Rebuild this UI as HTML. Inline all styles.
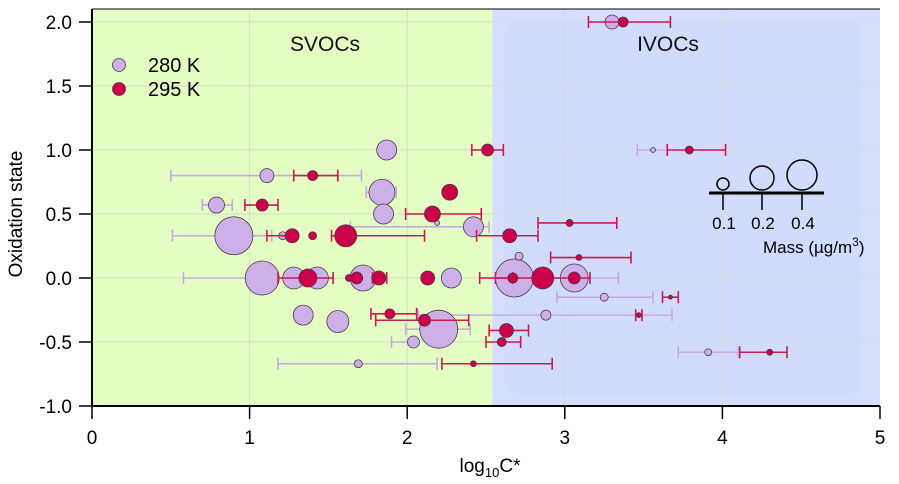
<!DOCTYPE html>
<html><head><meta charset="utf-8"><style>
body{margin:0;background:#fff;width:899px;height:484px;overflow:hidden}
svg{display:block;font-family:"Liberation Sans",Arial,sans-serif}
</style></head><body>
<svg id="chart" width="899" height="484" viewBox="0 0 899 484">
<defs><clipPath id="pc"><rect x="92" y="9" width="788" height="397"/></clipPath></defs>
<g id="bg"></g><g id="grid"></g><g id="marks" clip-path="url(#pc)"></g><g id="axes"></g><g id="legend"></g>
</svg>
<script>
const xTicks=[0,1,2,3,4,5];
const yTicks=[-1.0,-0.5,0.0,0.5,1.0,1.5,2.0];
// 280 K: x, y, mass-radius(px), xlo, xhi (null = no bar)
const s280X=[1.87,1.11,1.84,0.79,1.85,0.90,1.21,2.42,2.19,1.08,1.28,1.43,1.72,2.28,2.68,3.06,2.71,3.25,2.88,1.34,1.56,2.20,2.04,1.69,3.56,3.91,3.30];
const s280Y=[1.0,0.8,0.67,0.57,0.5,0.33,0.33,0.40,0.43,0,0,0,0,0,0,0,0.17,-0.15,-0.29,-0.29,-0.34,-0.40,-0.5,-0.67,1.0,-0.58,2.0];
const s280R=[10,7,13,8,10,19,4,10,2.5,17,11,11,13,10,19,14,4,4,5,10,11,19,6,4,2.5,3.5,7];
const s280Lo=[null,0.50,1.74,0.70,null,0.51,null,1.64,null,0.58,null,null,null,null,2.46,null,null,2.95,2.07,null,null,1.99,1.90,1.18,3.46,3.72,null];
const s280Hi=[null,1.71,1.93,0.89,null,1.14,null,2.52,null,1.53,null,null,null,null,3.34,null,null,3.56,3.68,null,null,2.40,2.04,2.19,3.65,4.10,null];
// 295 K
const s295X=[3.37,2.51,1.40,3.79,2.27,1.08,2.16,2.65,3.03,1.27,1.40,1.61,1.37,1.63,1.68,1.82,2.13,2.67,2.86,3.06,3.09,3.67,3.47,1.89,2.11,2.63,2.60,2.42,4.30];
const s295Y=[2.0,1.0,0.8,1.0,0.67,0.57,0.5,0.33,0.43,0.33,0.33,0.33,0,0,0,0,0,0,0,0,0.16,-0.15,-0.29,-0.28,-0.33,-0.41,-0.5,-0.67,-0.58];
const s295R=[5,6,5,4,8,6,8,7,3.5,7,4,11,9,3.5,6,7,7,5,11,6,3,2,2.5,5,6,7,4.5,3,3];
const s295Lo=[3.15,2.41,1.28,3.65,null,0.97,1.99,2.44,2.83,1.11,null,1.52,1.18,null,null,1.78,null,2.46,null,2.56,2.91,3.62,3.45,1.77,1.80,2.52,2.50,2.22,4.11];
const s295Hi=[3.67,2.61,1.56,4.02,null,1.18,2.47,2.83,3.33,1.27,null,2.11,1.53,null,null,1.87,null,2.67,null,3.16,3.42,3.72,3.49,2.06,2.39,2.77,2.72,2.92,4.41];

const X=v=>92+v*157.6, Y=v=>278-v*128;
const NS='http://www.w3.org/2000/svg';
function el(t,a,p,txt){const e=document.createElementNS(NS,t);for(const k in a)e.setAttribute(k,a[k]);if(txt!=null)e.textContent=txt;document.getElementById(p).appendChild(e);return e;}

let e;
e=el('rect',{x:92,y:9,width:X(2.54)-92,height:397,fill:'#e4fdc2'},'bg');


e=el('rect',{x:X(2.54),y:9,width:880-X(2.54),height:397,fill:'#d5defd'},'bg');


el('rect',{x:X(2.54)+12,y:22,width:880-X(2.54)-30,height:372,rx:14,fill:'#d1dcfd'},'bg');
e=el('text',{x:325,y:51,'font-size':21,'text-anchor':'middle',fill:'#111'},'bg','SVOCs');


e=el('text',{x:668,y:51,'font-size':21,'text-anchor':'middle',fill:'#111'},'bg','IVOCs');



xTicks.forEach(v=>{if(v>0&&v<5)el('line',{x1:X(v),x2:X(v),y1:9,y2:406,stroke:'#d6dccf','stroke-width':1},'grid');});
yTicks.forEach(v=>{if(v>-1&&v<2.1)el('line',{x1:92,x2:880,y1:Y(v),y2:Y(v),stroke:'#d6dccf','stroke-width':1},'grid');});

function series(xs,ys,rs,lo,hi,fill,bar,name){
  xs.forEach((x,i)=>{
    if(lo[i]!=null){
      const y=Y(ys[i]);
      e=el('line',{x1:X(lo[i]),x2:X(hi[i]),y1:y,y2:y,stroke:bar,'stroke-width':1.6},'marks');
      
      
      el('line',{x1:X(lo[i]),x2:X(lo[i]),y1:y-6,y2:y+6,stroke:bar,'stroke-width':1.6},'marks');
      el('line',{x1:X(hi[i]),x2:X(hi[i]),y1:y-6,y2:y+6,stroke:bar,'stroke-width':1.6},'marks');
    }
  });
  xs.forEach((x,i)=>{
    e=el('circle',{cx:X(x),cy:Y(ys[i]),r:rs[i],fill:fill,stroke:'#4a3a4a','stroke-width':0.8},'marks');
    
    
  });
}
series(s280X,s280Y,s280R,s280Lo,s280Hi,'#cdb0e8','#c7a8e6','280k');
series(s295X,s295Y,s295R,s295Lo,s295Hi,'#cc0048','#cc1a4e','295k');

el('line',{x1:92,x2:92,y1:9,y2:406,stroke:'#000','stroke-width':2},'axes');
el('line',{x1:92,x2:880,y1:406,y2:406,stroke:'#000','stroke-width':2},'axes');
el('line',{x1:92,x2:880,y1:9,y2:9,stroke:'#000','stroke-width':1},'axes');
xTicks.forEach(v=>{
  el('line',{x1:X(v),x2:X(v),y1:406,y2:419,stroke:'#000','stroke-width':1.5},'axes');
  e=el('text',{x:X(v),y:444,'font-size':19,'text-anchor':'middle'},'axes',String(v));
  
  
});
yTicks.forEach(v=>{
  el('line',{x1:79,x2:92,y1:Y(v),y2:Y(v),stroke:'#000','stroke-width':1.5},'axes');
  e=el('text',{x:72,y:Y(v)+7,'font-size':19,'text-anchor':'end'},'axes',v.toFixed(1));
  
  
});
e=el('text',{x:22,y:214,'font-size':19,'text-anchor':'middle',transform:'rotate(-90 22 214)'},'axes','Oxidation state');


e=el('text',{x:490,y:472,'font-size':19,'text-anchor':'middle'},'axes');


e.innerHTML='log<tspan font-size="13" dy="5">10</tspan><tspan dy="-5">C*</tspan>';

e=el('circle',{cx:119,cy:65,r:6.5,fill:'#cdb0e8',stroke:'#4a3a4a','stroke-width':0.8},'legend');


e=el('text',{x:148,y:72,'font-size':20},'legend','280 K');


e=el('circle',{cx:119,cy:89,r:6.5,fill:'#cc0048',stroke:'#4a3a4a','stroke-width':0.8},'legend');


e=el('text',{x:148,y:96,'font-size':20},'legend','295 K');



el('line',{x1:709,x2:824,y1:193,y2:193,stroke:'#000','stroke-width':3},'legend');
[[723,6,'0.1'],[762,12,'0.2'],[802,15,'0.4']].forEach(([cx,r,l])=>{
  e=el('circle',{cx:cx,cy:193-3-r,r:r,fill:'none',stroke:'#000','stroke-width':1.5},'legend');
  
  
  el('line',{x1:cx,x2:cx,y1:193,y2:210,stroke:'#000','stroke-width':1.5},'legend');
  el('text',{x:cx+1,y:229,'font-size':17,'text-anchor':'middle'},'legend',l);
});
e=el('text',{x:763,y:253,'font-size':17},'legend');


e.innerHTML='Mass (µg/m<tspan font-size="12" dy="-7">3</tspan><tspan dy="7">)</tspan>';
</script>
</body></html>
